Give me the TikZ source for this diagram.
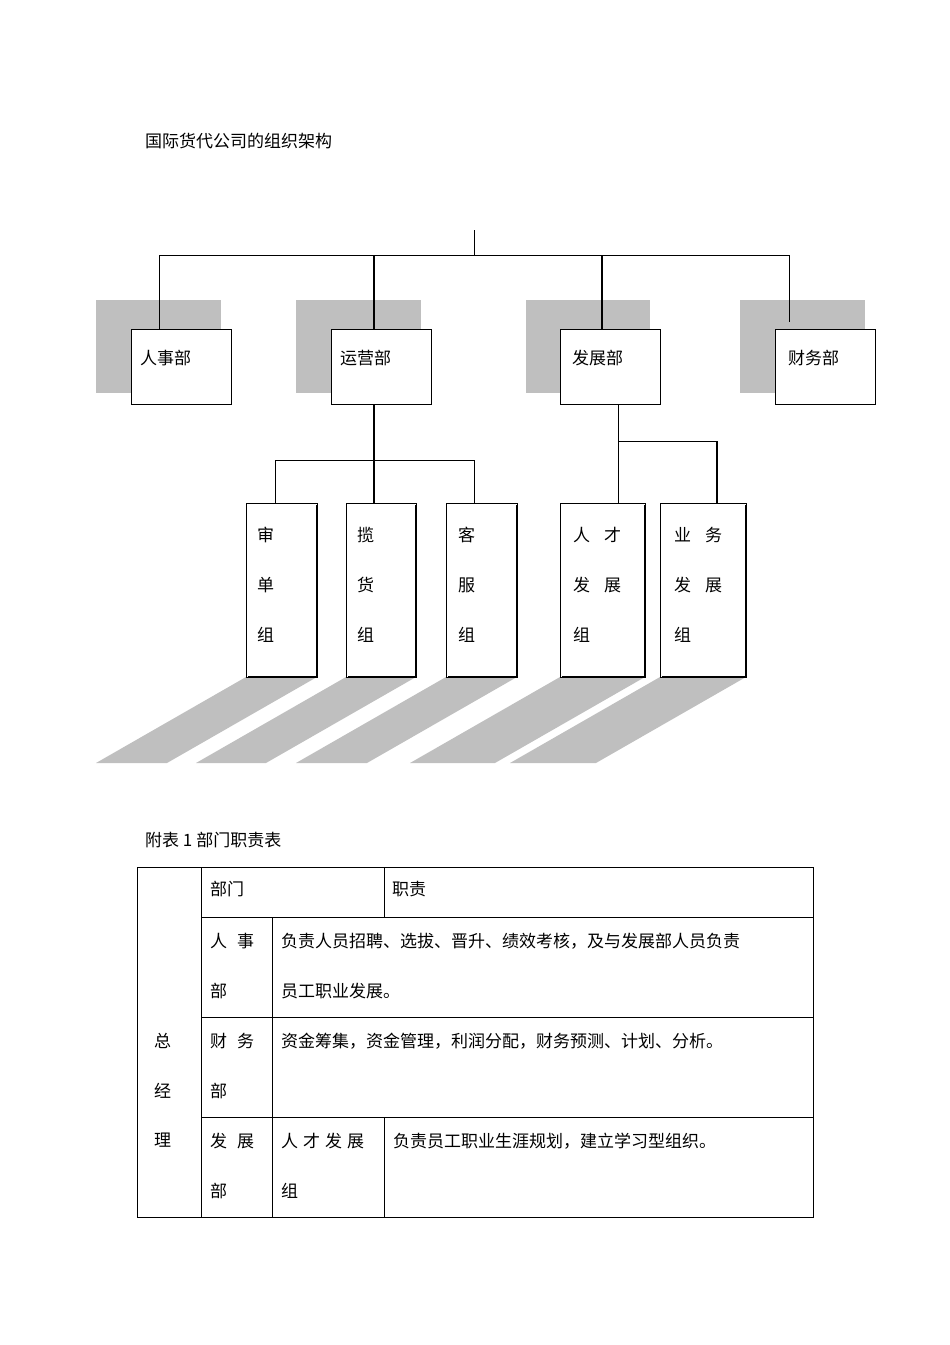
\documentclass[tikz,border=0pt]{standalone}
\usepackage{fontspec}
\setmainfont{Noto Sans CJK SC}
\begin{document}
\begin{tikzpicture}[x=1pt,y=-1pt,
  t/.style={anchor=west,inner sep=0pt,font=\fontsize{17}{17}\selectfont},
  bx/.style={draw,fill=white,line width=0.8pt},
  sh/.style={fill=black!25,draw=none},
  thk/.style={line width=1.6pt},
  thn/.style={line width=0.8pt}]
\useasboundingbox (0,0) rectangle (950,1345);
\node[t] (title) at (145,141) {国际货代公司的组织架构};
% shadows top
\fill[sh] (96,300) rectangle (221,393);
\fill[sh] (296,300) rectangle (421,393);
\fill[sh] (526,300) rectangle (650,393);
\fill[sh] (740,300) rectangle (865,393);
% top lines
\coordinate (top) at (474,230);
\coordinate (hub) at (474,255);
\draw[thn] (top) -- (hub);
\draw[thn] (159,255) -- (789,255);
\draw[thn] (159,255) -- (159,329);
\draw[thk] (374,255) -- (374,329);
\draw[thk] (602,255) -- (602,329);
\draw[thn] (789,255) -- (789,322);
% dept boxes
\node[bx,minimum width=100pt,minimum height=75pt] (rs) at (181,366.5) {};
\node[t] at (140,358) {人事部};
\node[bx,minimum width=100pt,minimum height=75pt] (yy) at (381,366.5) {};
\node[t] at (340,358) {运营部};
\node[bx,minimum width=100pt,minimum height=75pt] (fz) at (610,366.5) {};
\node[t] at (572,358) {发展部};
\node[bx,minimum width=100pt,minimum height=75pt] (cw) at (825,366.5) {};
\node[t] at (788,358) {财务部};
% sub lines
\draw[thk] (374,404) -- (374,503);
\draw[thn] (275,460) -- (474,460);
\draw[thn] (275,460) -- (275,503);
\draw[thn] (474,460) -- (474,503);
\draw[thn] (618,404) -- (618,503);
\draw[thn] (618,441) -- (717,441);
\draw[thk] (717,441) -- (717,503);
% parallelogram shadows
\foreach \a/\b in {246/317,346/416,446/517,560/645,660/746}
  \fill[sh] (\a,677) -- (\b,677) -- (\b-150,763) -- (\a-150,763) -- cycle;
% group boxes
\foreach \a/\b/\n in {246/317/g1,346/416/g2,446/517/g3,560/645/g4,660/746/g5}{
  \draw[thn,fill=white] (\a,503) rectangle (\b,677);
  \draw[line width=2pt] (\b,505) -- (\b,677) -- (\a+2,677);
}
\node[t] at (257,535) {审};\node[t] at (257,585) {单};\node[t] at (257,635) {组};
\node[t] at (357,535) {揽};\node[t] at (357,585) {货};\node[t] at (357,635) {组};
\node[t] at (458,535) {客};\node[t] at (458,585) {服};\node[t] at (458,635) {组};
\node[t] at (573,535) {人\hspace{14pt}才};\node[t] at (573,585) {发\hspace{14pt}展};\node[t] at (573,635) {组};
\node[t] at (674,535) {业\hspace{14pt}务};\node[t] at (674,585) {发\hspace{14pt}展};\node[t] at (674,635) {组};
% table
\node[t] (cap) at (145,840) {附表 1 部门职责表};
\draw[thn] (137,867) rectangle (813,1217);
\draw[thn] (201,867) -- (201,1217);
\draw[thn] (272,917) -- (272,1217);
\draw[thn] (384,867) -- (384,917);
\draw[thn] (384,1117) -- (384,1217);
\draw[thn] (201,917) -- (813,917);
\draw[thn] (201,1017) -- (813,1017);
\draw[thn] (201,1117) -- (813,1117);
\node[t] at (154,1041) {总};\node[t] at (154,1091) {经};\node[t] at (154,1140) {理};
\node[t] at (210,889) {部门};
\node[t] at (392,889) {职责};
\node[t] at (210,941) {人\hspace{10pt}事};\node[t] at (210,991) {部};
\node[t] at (281,941) {负责人员招聘、选拔、晋升、绩效考核，及与发展部人员负责};
\node[t] at (281,991) {员工职业发展。};
\node[t] at (210,1041) {财\hspace{10pt}务};\node[t] at (210,1091) {部};
\node[t] at (281,1041) {资金筹集，资金管理，利润分配，财务预测、计划、分析。};
\node[t] at (210,1141) {发\hspace{10pt}展};\node[t] at (210,1191) {部};
\node[t] at (281,1141) {人\hspace{5pt}才\hspace{5pt}发\hspace{5pt}展};\node[t] at (281,1191) {组};
\node[t] at (393,1141) {负责员工职业生涯规划，建立学习型组织。};
\end{tikzpicture}
\end{document}
